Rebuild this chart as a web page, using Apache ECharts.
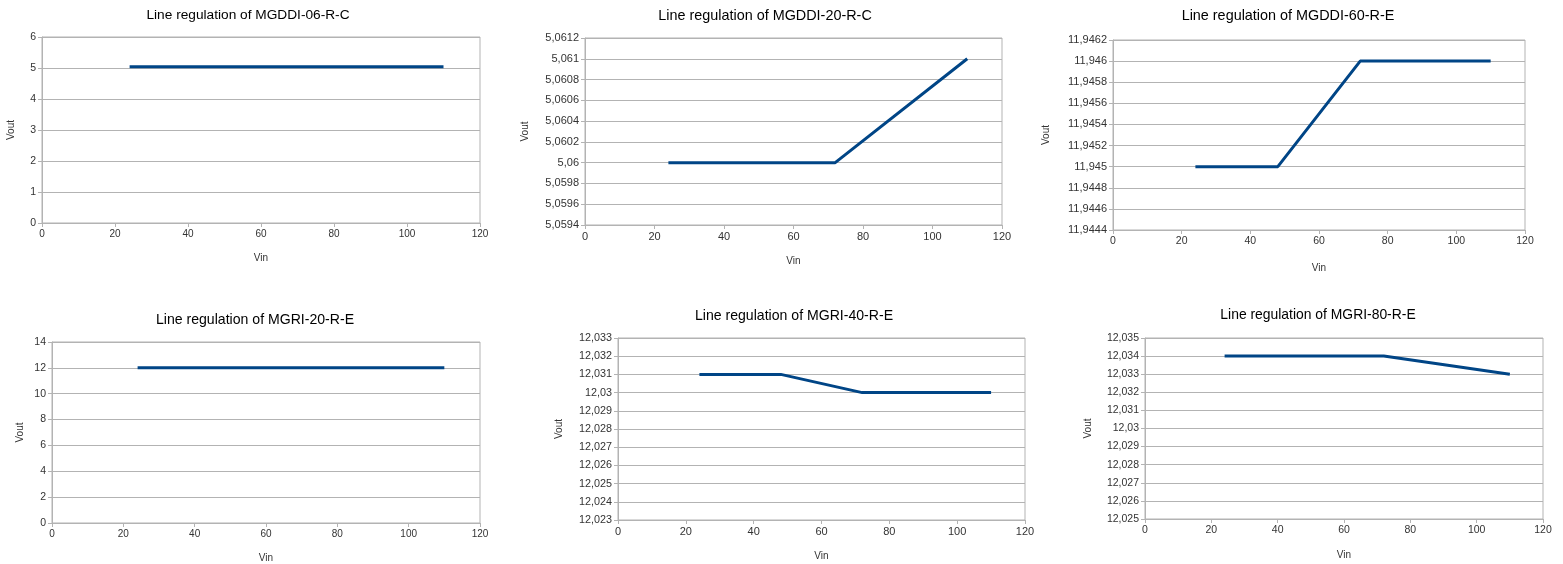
<!DOCTYPE html>
<html><head><meta charset="utf-8">
<script src="https://cdn.jsdelivr.net/npm/echarts@6/dist/echarts.min.js"></script>
<style>html,body{margin:0;padding:0;background:#fff}#c{width:1563px;height:564px}</style>
</head><body><div id="c"></div>
<script>
const vin = [24, 48, 72, 110];
const titles = ['Line regulation of MGDDI-06-R-C','Line regulation of MGDDI-20-R-C','Line regulation of MGDDI-60-R-E',
  'Line regulation of MGRI-20-R-E','Line regulation of MGRI-40-R-E','Line regulation of MGRI-80-R-E'];
const vout1 = [5.04, 5.04, 5.04, 5.04];
const vout2 = [5.06, 5.06, 5.06, 5.061];
const vout3 = [11.945, 11.945, 11.946, 11.946];
const vout4 = [12.01, 12.01, 12.01, 12.01];
const vout5 = [12.031, 12.031, 12.03, 12.03];
const vout6 = [12.034, 12.034, 12.034, 12.033];
const yMin = [0, 5.0594, 11.9444, 0, 12.023, 12.025];
const yMax = [6, 5.0612, 11.9462, 14, 12.033, 12.035];
const yStep = [1, 0.0002, 0.0002, 2, 0.001, 0.001];
const xTicks = {min: 0, max: 120, interval: 20};
const series = [vout1, vout2, vout3, vout4, vout5, vout6];

const grids = [
  {left: 42, top: 37, width: 438, height: 186},
  {left: 585, top: 38, width: 417, height: 187},
  {left: 1113, top: 40, width: 412, height: 190},
  {left: 52, top: 342, width: 428, height: 182},
  {left: 618, top: 338, width: 407, height: 182},
  {left: 1145, top: 338, width: 398, height: 181}
];
const titlePos = [[243, 3], [760, 4], [1283, 4], [250, 308], [789, 304], [1313, 303]];
const titleFont = [13.7, 14.4, 14.4, 14.1, 14.1, 13.9];
const xFont = [10, 11, 10.5, 10, 11, 10.5];
const yFont = [10.5, 11, 11, 10.5, 10.8, 10.5];
const yNameGap = [26, 55, 62, 27, 54, 52];
const xNameGap = [30, 31, 33, 30, 31, 31];
const gray = '#b3b3b3';
const fmt = v => String(+(+v).toFixed(4)).replace('.', ',');

const option = {
  animation: false,
  textStyle: {fontFamily: 'Liberation Sans'},
  title: titles.map((t, i) => ({text: t, left: titlePos[i][0], top: titlePos[i][1], textAlign: 'center',
    textStyle: {fontFamily: 'Liberation Sans', fontSize: titleFont[i], fontWeight: 'normal', color: '#000'}})),
  grid: grids.map(g => Object.assign({show: true, borderColor: gray, borderWidth: 1, containLabel: false}, g)),
  xAxis: grids.map((g, i) => ({type: 'value', gridIndex: i, min: xTicks.min, max: xTicks.max, interval: xTicks.interval,
    name: 'Vin', nameLocation: 'middle', nameGap: xNameGap[i], nameTextStyle: {fontSize: 10, color: '#333'},
    axisLine: {lineStyle: {color: gray}}, axisTick: {show: true, length: 4, lineStyle: {color: gray}},
    axisLabel: {fontSize: xFont[i], color: '#333', margin: 6}, splitLine: {show: false}})),
  yAxis: grids.map((g, i) => ({type: 'value', gridIndex: i, min: yMin[i], max: yMax[i], interval: yStep[i],
    name: 'Vout', nameLocation: 'middle', nameGap: yNameGap[i], nameTextStyle: {fontSize: 10, color: '#333'},
    axisLine: {show: true, lineStyle: {color: gray}}, axisTick: {show: true, length: 4, lineStyle: {color: gray}},
    axisLabel: {fontSize: yFont[i], color: '#333', margin: 6, formatter: fmt},
    splitLine: {show: true, lineStyle: {color: gray, width: 1}}})),
  series: series.map((s, i) => ({type: 'line', xAxisIndex: i, yAxisIndex: i, data: vin.map((x, k) => [x, s[k]]),
    showSymbol: false, symbol: 'none', lineStyle: {color: '#004586', width: 3}, itemStyle: {color: '#004586'}}))
};
const chart = echarts.init(document.getElementById('c'), null, {renderer: 'canvas'});
chart.setOption(option);
</script></body></html>
